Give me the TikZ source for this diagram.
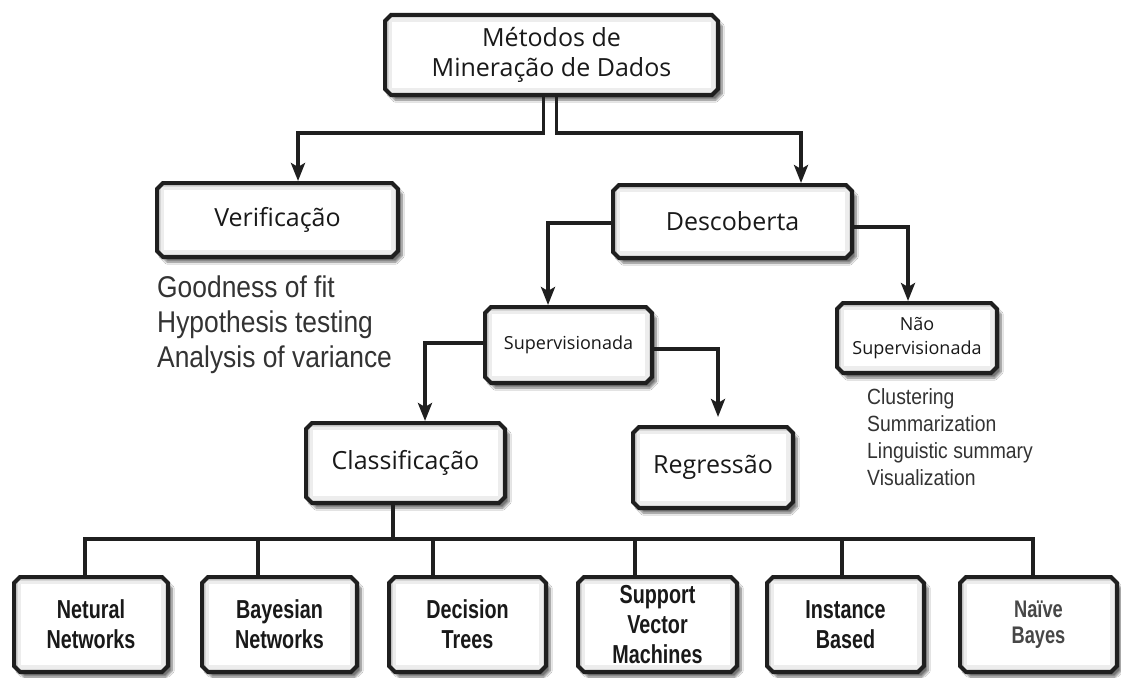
\documentclass[tikz,border=0pt]{standalone}
\usepackage{fontspec}
\setmainfont{Open Sans}
\newfontfamily\narrowfont[FakeStretch=0.88]{Liberation Sans}
\newfontfamily\condbold[FakeStretch=0.76]{Liberation Sans Bold}
\usetikzlibrary{shapes.misc,shadows.blur,arrows.meta,calc}
\begin{document}
\begin{tikzpicture}[x=1pt,y=-1pt,
  box/.style={chamfered rectangle, chamfered rectangle xsep=3pt, chamfered rectangle ysep=3pt,
    draw=black!88, line width=4pt, fill=white, inner sep=0pt, align=center, text=black!90,
    path picture={
      \draw[black!7, line width=14pt] (path picture bounding box.north west) rectangle (path picture bounding box.south east);
      \draw[black!16, line width=7pt] (path picture bounding box.north west) rectangle (path picture bounding box.south east);
    },
    blur shadow={shadow xshift=4pt, shadow yshift=-5pt, shadow blur steps=8, shadow opacity=55}},
  bigbox/.style={box, font=\fontsize{25}{30}\selectfont},
  smallbox/.style={box, font=\fontsize{18}{24}\selectfont},
  leaf/.style={box, minimum height=95pt, font=\condbold\fontsize{26}{30}\selectfont},
  conn/.style={line width=3.5pt, draw=black!88, line join=miter},
  arr/.style={conn, -{Stealth[length=18pt,width=14pt,inset=4pt]}},
  note/.style={inner sep=0pt, anchor=north west, align=left, text=black!80}]
\path[fill=white] (0,0) rectangle (1121,677);
\useasboundingbox (0,0) rectangle (1121,677);

% boxes
\node[bigbox, minimum width=333pt, minimum height=80pt] (top) at (551.5,55) {Métodos de\\Mineração de Dados};
\node[bigbox, minimum width=241pt, minimum height=74pt] (verif) at (277.5,220) {Verificação};
\node[bigbox, minimum width=239pt, minimum height=73pt] (desc) at (732.5,221.5) {Descoberta};
\node[smallbox, minimum width=167pt, minimum height=76pt] (sup) at (568.5,345) {Supervisionada};
\node[smallbox, minimum width=160pt, minimum height=70pt] (nsup) at (917,338) {Não\\Supervisionada};
\node[bigbox, minimum width=199pt, minimum height=80pt] (class) at (405.5,463) {Classificação};
\node[bigbox, minimum width=160pt, minimum height=81pt] (reg) at (713,467.5) {Regressão};

\node[leaf, minimum width=154pt] (b1) at (91,624.5) {Netural\\Networks};
\node[leaf, minimum width=155pt] (b2) at (279.5,624.5) {Bayesian\\Networks};
\node[leaf, minimum width=157pt] (b3) at (467.5,624.5) {Decision\\Trees};
\node[leaf, minimum width=159pt] (b4) at (657.5,624.5) {Support\\Vector\\Machines};
\node[leaf, minimum width=157pt] (b5) at (845.5,624.5) {Instance\\Based};
\node[leaf, minimum width=157pt, text=black!72, font=\condbold\fontsize{24}{26}\selectfont] (b6) at (1038.5,624.5) {Naïve\\Bayes};

% text lists
\node[note, font=\narrowfont\fontsize{30}{35}\selectfont] (vlist) at (157,276) {Goodness of fit\\Hypothesis testing\\Analysis of variance};
\node[note, font=\narrowfont\fontsize{22}{27}\selectfont] (nlist) at (867,388) {Clustering\\Summarization\\Linguistic summary\\Visualization};

% connectors
\coordinate (j1) at (298,133);
\coordinate (j2) at (801,133);
\draw[arr] ([xshift=-8pt]top.south) |- (j1) -- (j1 |- verif.north);
\draw[arr] ([xshift=5pt]top.south) |- (j2) -- (j2 |- desc.north);

\coordinate (j3) at (548,223);
\coordinate (j4) at (908,227);
\draw[arr] (desc.west |- j3) -- (j3) -- (j3 |- sup.north);
\draw[arr] (desc.east |- j4) -- (j4) -- (j4 |- nsup.north);

\coordinate (j5) at (425,343);
\coordinate (j6) at (718,349);
\draw[arr] (sup.west |- j5) -- (j5) -- (j5 |- class.north);
\draw[arr, shorten >=8pt] (sup.east |- j6) -- (j6) -- (j6 |- reg.north);

\coordinate (cb) at (393,539);
\coordinate (s1) at (85,539);
\coordinate (s2) at (258,539);
\coordinate (s3) at (433,539);
\coordinate (s4) at (635,539);
\coordinate (s5) at (842,539);
\coordinate (s6) at (1033,539);
\draw[conn] (cb |- class.south) -- (cb);
\draw[conn] (s1 |- b1.north) -- (s1) -- (s6) -- (s6 |- b6.north);
\foreach \i in {2,...,5} \draw[conn] (s\i) -- (s\i |- b\i.north);
\end{tikzpicture}
\end{document}
